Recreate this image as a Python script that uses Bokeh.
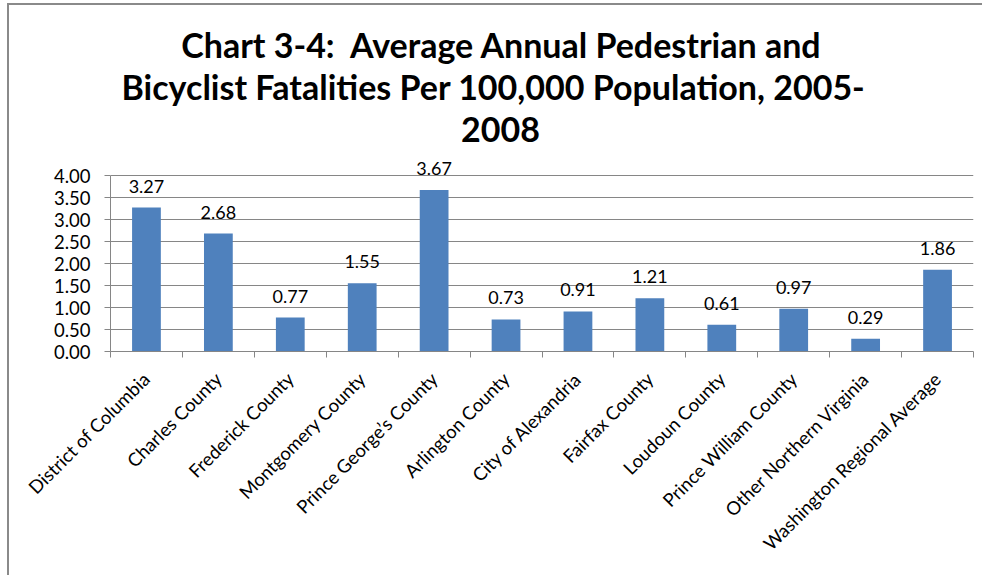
from bokeh.plotting import figure
from bokeh.models import (Range1d, FixedTicker, NumeralTickFormatter, ColumnDataSource,
                          LabelSet, Label)
from bokeh.core.properties import value
from bokeh.embed import file_html
from bokeh.resources import INLINE
import math

categories = ["District of Columbia", "Charles County", "Frederick County",
              "Montgomery County", "Prince George\u2019s County", "Arlington County",
              "City of Alexandria", "Fairfax County", "Loudoun County",
              "Prince William County", "Other Northern Virginia",
              "Washington Regional Average"]
values = [3.27, 2.68, 0.77, 1.55, 3.67, 0.73, 0.91, 1.21, 0.61, 0.97, 0.29, 1.86]
y_ticks = [0, 0.5, 1.0, 1.5, 2.0, 2.5, 3.0, 3.5, 4.0]
title_lines = ["Chart 3-4: \u00a0Average Annual Pedestrian and",
               "Bicyclist Fatalities Per 100,000 Population, 2005-",
               "2008"]

FONT = "Lato"
GRID = "#868686"
BAR = "#4F81BD"

xs = [i + 0.5 for i in range(len(categories))]
src = ColumnDataSource(dict(x=xs, top=values, lab=["%.2f" % v for v in values]))

# frame spans the whole area above the x axis so that the title and the
# value labels are not clipped; axis line and grid stop at 4.00
FRAME_H = 346
p = figure(width=975, height=572, output_backend="svg", toolbar_location=None,
           x_range=Range1d(0, len(categories)), y_range=Range1d(0, FRAME_H / 44.0))
p.min_border_left = 101
p.min_border_right = 11
p.min_border_top = 0
p.min_border_bottom = 572 - FRAME_H
p.outline_line_color = None
p.styles = {"margin-left": "7px", "margin-top": "3px",
            "border-left": "2px solid #8a8a8a", "border-top": "2px solid #8a8a8a"}

p.vbar(x="x", top="top", bottom=0, width=0.40, source=src, fill_color=BAR, line_color=None)

p.add_layout(LabelSet(x="x", y="top", text="lab", source=src, text_align="center",
                      text_baseline="alphabetic", y_offset=15, text_font=value(FONT),
                      text_font_size="18px", text_color="#000000"))

# axes
xa = p.xaxis[0]
xa.ticker = FixedTicker(ticks=xs, minor_ticks=list(range(len(categories) + 1)))
xa.major_label_overrides = {x: c for x, c in zip(xs, categories)}
xa.major_label_orientation = math.pi / 4
xa.major_tick_out = 0
xa.major_tick_in = 0
xa.minor_tick_out = 6
xa.minor_tick_in = 0
xa.minor_tick_line_color = GRID
xa.axis_line_color = GRID
xa.major_label_text_font = FONT
xa.major_label_text_font_size = "18.5px"
xa.major_label_text_color = "#000000"
xa.major_label_standoff = 18

ya = p.yaxis[0]
ya.ticker = FixedTicker(ticks=y_ticks)
ya.bounds = (0, 4)
ya.formatter = NumeralTickFormatter(format="0.00")
ya.major_tick_out = 6
ya.major_tick_in = 0
ya.minor_tick_line_color = None
ya.major_tick_line_color = GRID
ya.axis_line_color = GRID
ya.major_label_text_font = FONT
ya.major_label_text_font_size = "18.5px"
ya.major_label_text_color = "#000000"
ya.major_label_standoff = 14

p.xgrid.grid_line_color = None
p.ygrid.grid_line_color = GRID
p.ygrid.ticker = FixedTicker(ticks=y_ticks)

# title lines (screen units, relative to plot frame bottom-left)
title_x = [391, 383, 390]
title_y = [307, 265, 222]
for line, tx, ty in zip(title_lines, title_x, title_y):
    p.add_layout(Label(x=tx, y=ty, x_units="screen", y_units="screen", text=line,
                       text_align="center", text_baseline="alphabetic",
                       text_font=FONT, text_font_style="bold",
                       text_font_size="34px", text_color="#000000"))

open("out.html", "w").write(file_html(p, INLINE))
